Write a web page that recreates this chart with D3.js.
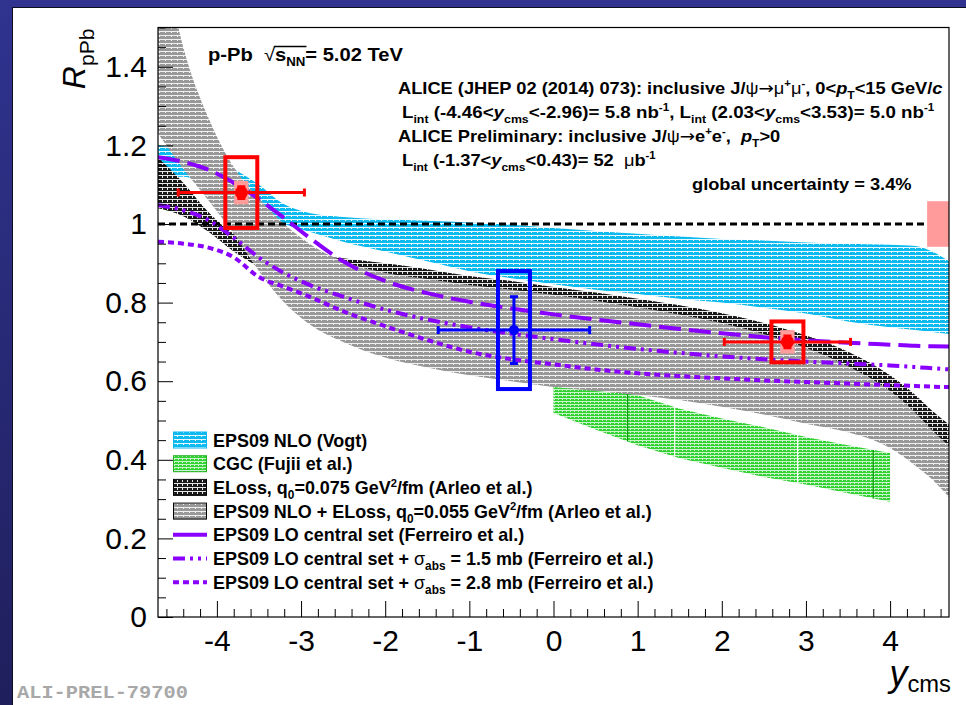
<!DOCTYPE html>
<html>
<head>
<meta charset="utf-8">
<script src="https://cdn.jsdelivr.net/npm/d3@7"></script>
<style>
  html, body { margin: 0; padding: 0; background: #2e3190; }
  svg { display: block; }
  text { white-space: pre; }
</style>
</head>
<body>
<svg id="chart" width="966" height="705"></svg>
<script>
// ---------------- data ----------------
// rapidity grid shared by the model calculations
const modelGrid   = [-4.7, -4.4, -4.1, -3.8, -3.5, -3.2, -2.9, -2.5, -2, -1.5, -1, -0.5, 0, 0.5, 1, 1.5, 2, 2.5, 3, 3.5, 4, 4.3, 4.5, 4.7];
// EPS09 NLO (Vogt) band
const vogtHigh    = [1.20, 1.19, 1.17, 1.14, 1.10, 1.05, 1.028, 1.018, 1.012, 1.008, 1.004, 0.998, 0.99, 0.982, 0.975, 0.968, 0.962, 0.958, 0.953, 0.95, 0.947, 0.944, 0.93, 0.905];
const vogtLow     = [1.12, 1.12, 1.10, 1.06, 1.03, 1.00, 0.98, 0.955, 0.93, 0.905, 0.88, 0.862, 0.847, 0.833, 0.822, 0.81, 0.80, 0.787, 0.772, 0.752, 0.737, 0.73, 0.725, 0.72];
// ELoss q0 = 0.075 GeV^2/fm (Arleo et al.)
const elossHigh   = [1.17, 1.105, 1.03, 0.975, 0.945, 0.93, 0.922, 0.913, 0.90, 0.885, 0.868, 0.855, 0.84, 0.826, 0.81, 0.793, 0.773, 0.748, 0.716, 0.675, 0.615, 0.565, 0.525, 0.49];
const elossLow    = [1.04, 1.02, 0.98, 0.93, 0.89, 0.86, 0.845, 0.845, 0.845, 0.84, 0.835, 0.825, 0.813, 0.80, 0.785, 0.768, 0.745, 0.717, 0.68, 0.63, 0.565, 0.51, 0.465, 0.415];
// EPS09 NLO + ELoss q0 = 0.055 GeV^2/fm (Arleo et al.)
const epsElossHigh = [1.75, 1.45, 1.27, 1.145, 1.065, 1.00, 0.95, 0.905, 0.876, 0.86, 0.845, 0.833, 0.82, 0.805, 0.788, 0.77, 0.748, 0.72, 0.685, 0.638, 0.575, 0.52, 0.475, 0.435];
const epsElossLow  = [1.23, 1.14, 1.06, 0.975, 0.88, 0.80, 0.745, 0.70, 0.66, 0.635, 0.615, 0.60, 0.585, 0.575, 0.565, 0.552, 0.535, 0.515, 0.492, 0.47, 0.43, 0.385, 0.35, 0.305];
// EPS09 LO (Ferreiro et al.)
const centralSet  = [1.17, 1.158, 1.138, 1.105, 1.063, 1.015, 0.965, 0.905, 0.855, 0.824, 0.802, 0.785, 0.77, 0.757, 0.745, 0.733, 0.722, 0.712, 0.704, 0.698, 0.693, 0.69, 0.689, 0.688];
const absorb15    = [1.048, 1.035, 1.01, 0.965, 0.915, 0.875, 0.845, 0.815, 0.782, 0.757, 0.737, 0.721, 0.707, 0.694, 0.682, 0.672, 0.663, 0.656, 0.65, 0.645, 0.64, 0.636, 0.633, 0.63];
const absorb28    = [0.955, 0.95, 0.94, 0.915, 0.865, 0.84, 0.815, 0.778, 0.74, 0.705, 0.675, 0.656, 0.643, 0.63, 0.62, 0.613, 0.607, 0.602, 0.598, 0.594, 0.59, 0.588, 0.586, 0.585];
// CGC (Fujii et al.)
const cgcGrid     = [0, 0.5, 1, 1.5, 2, 2.5, 3, 3.5, 4];
const cgcHigh     = [0.608, 0.586, 0.564, 0.53, 0.505, 0.483, 0.458, 0.437, 0.417];
const cgcLow      = [0.519, 0.477, 0.437, 0.404, 0.38, 0.356, 0.337, 0.315, 0.293];
const cgcSeams    = [0.88, 1.44, 2.9, 3.8];
const cgcSeamInk  = ["#109a10", "#ffffff", "#ffffff", "#109a10"];

// measured points: backward (mu mu), mid (e e), forward (mu mu)
const pointRapidity = [-3.71, -0.47, 2.78];
const pointBinLow   = [-4.46, -1.37, 2.03];
const pointBinHigh  = [-2.96, 0.43, 3.53];
const pointR        = [1.08, 0.73, 0.70];
const pointStat     = [0.015, 0.085, 0.015];
const pointSysUncorr = [0.09, 0.15, 0.052];
const pointSysCorr  = [0.03, 0, 0.03];
const pointColor    = ["#ff0000", "#0000ff", "#ff0000"];
const globalUnc     = 0.058;

const yTicks = [0, 0.2, 0.4, 0.6, 0.8, 1, 1.2, 1.4];
const xTicks = [-4, -3, -2, -1, 0, 1, 2, 3, 4];

// ---------------- setup ----------------
const W = 966, H = 705;
const svg = d3.select("#chart");
const defs = svg.append("defs");

const grad = defs.append("linearGradient").attr("id", "bgGrad")
  .attr("x1", 0).attr("y1", 0).attr("x2", 0).attr("y2", 1);
grad.append("stop").attr("offset", "0%").attr("stop-color", "#30338f");
grad.append("stop").attr("offset", "100%").attr("stop-color", "#1f1f5c");
svg.append("rect").attr("width", W).attr("height", H).attr("fill", "url(#bgGrad)");
svg.append("rect").attr("x", 12.5).attr("y", 7.5).attr("width", W).attr("height", H)
  .attr("fill", "#ffffff").attr("stroke", "#0d0d20").attr("stroke-width", 1);

const x = d3.scaleLinear().domain([-4.7, 4.7]).range([158, 949]);
const y = d3.scaleLinear().domain([0, 1.5]).range([617, 27.5]);
const [fx0, fx1] = x.range();
const [fy0, fy1] = y.range();

// hatched fills in the style of the original plotting package
function hatch(id, base, line, lineOp, cw, ch, speckH) {
  const p = defs.append("pattern").attr("id", id).attr("patternUnits", "userSpaceOnUse")
    .attr("width", cw).attr("height", ch);
  p.append("rect").attr("width", cw).attr("height", ch).attr("fill", base);
  p.append("rect").attr("x", 0).attr("y", ch - 1).attr("width", cw).attr("height", 1)
    .attr("fill", line).attr("opacity", lineOp);
  p.append("rect").attr("x", Math.floor(cw / 2)).attr("y", 0).attr("width", 1).attr("height", speckH)
    .attr("fill", line).attr("opacity", lineOp);
}
hatch("hVogt", "#0cbaf0", "#ffffff", 0.9, 6, 4, 1);
hatch("hCgc", "#33d233", "#ffffff", 0.75, 4, 3, 1);
hatch("hEloss", "#181818", "#ffffff", 0.9, 5, 4, 2);
hatch("hEpsEloss", "#989898", "#ffffff", 0.85, 6, 4, 1);

defs.append("clipPath").attr("id", "frameClip").append("rect")
  .attr("x", fx0).attr("y", fy1).attr("width", fx1 - fx0).attr("height", fy0 - fy1);

const plot = svg.append("g").attr("clip-path", "url(#frameClip)");

const band = (hi, lo) => modelGrid.map((g, i) => ({ x: g, hi: hi[i], lo: lo[i] }));
const area = d3.area().x(d => x(d.x)).y0(d => y(d.lo)).y1(d => y(d.hi)).curve(d3.curveMonotoneX);
const line = d3.line().x(d => x(d.x)).y(d => y(d.v)).curve(d3.curveMonotoneX);

// model bands
plot.append("path").attr("d", area(band(vogtHigh, vogtLow))).attr("fill", "url(#hVogt)");
const cgcData = cgcGrid.map((g, i) => ({ x: g, hi: cgcHigh[i], lo: cgcLow[i] }));
plot.append("path").attr("d", area.curve(d3.curveLinear)(cgcData)).attr("fill", "url(#hCgc)");
area.curve(d3.curveMonotoneX);
const cgcHiAt = d3.scaleLinear().domain(cgcGrid).range(cgcHigh);
const cgcLoAt = d3.scaleLinear().domain(cgcGrid).range(cgcLow);
cgcSeams.forEach((s, i) => {
  plot.append("line").attr("x1", x(s)).attr("x2", x(s))
    .attr("y1", y(cgcHiAt(s))).attr("y2", y(cgcLoAt(s)))
    .attr("stroke", cgcSeamInk[i]).attr("stroke-width", 1.2);
});
plot.append("path").attr("d", area(band(elossHigh, elossLow))).attr("fill", "url(#hEloss)");
plot.append("path").attr("d", area(band(epsElossHigh, epsElossLow))).attr("fill", "url(#hEpsEloss)");

// unity reference
plot.append("line").attr("x1", fx0).attr("x2", fx1).attr("y1", y(1)).attr("y2", y(1))
  .attr("stroke", "#000").attr("stroke-width", 3).attr("stroke-dasharray", "7,4");

// Ferreiro et al. curves
const violet = "#8a00ff";
const curveStyles = [
  { v: centralSet, dash: "22,8" },
  { v: absorb15, dash: "12,5,3,5,3,5" },
  { v: absorb28, dash: "6,4" }
];
curveStyles.forEach(c => {
  plot.append("path").attr("d", line(modelGrid.map((g, i) => ({ x: g, v: c.v[i] }))))
    .attr("fill", "none").attr("stroke", violet).attr("stroke-width", 4)
    .attr("stroke-dasharray", c.dash);
});

// global normalisation uncertainty
plot.append("rect").attr("x", x(4.44)).attr("width", x(4.7) - x(4.44))
  .attr("y", y(1 + globalUnc)).attr("height", y(1 - globalUnc) - y(1 + globalUnc))
  .attr("fill", "#ff9b9b");

// data points
pointRapidity.forEach((c, i) => {
  const v = pointR[i], col = pointColor[i];
  if (pointSysCorr[i] > 0) {
    plot.append("rect").attr("x", x(c - 0.085)).attr("width", x(c + 0.085) - x(c - 0.085))
      .attr("y", y(v + pointSysCorr[i])).attr("height", y(v - pointSysCorr[i]) - y(v + pointSysCorr[i]))
      .attr("fill", "#ff9c9c");
  }
  plot.append("line").attr("x1", x(pointBinLow[i])).attr("x2", x(pointBinHigh[i]))
    .attr("y1", y(v)).attr("y2", y(v)).attr("stroke", col).attr("stroke-width", 3);
  [pointBinLow[i], pointBinHigh[i]].forEach(e => {
    plot.append("line").attr("x1", x(e)).attr("x2", x(e)).attr("y1", y(v) - 4).attr("y2", y(v) + 4)
      .attr("stroke", col).attr("stroke-width", 3);
  });
  plot.append("line").attr("x1", x(c)).attr("x2", x(c))
    .attr("y1", y(v + pointStat[i])).attr("y2", y(v - pointStat[i])).attr("stroke", col).attr("stroke-width", 3);
  [v + pointStat[i], v - pointStat[i]].forEach(e => {
    plot.append("line").attr("x1", x(c) - 4).attr("x2", x(c) + 4).attr("y1", y(e)).attr("y2", y(e))
      .attr("stroke", col).attr("stroke-width", 3);
  });
  plot.append("rect").attr("x", x(c - 0.19)).attr("width", x(c + 0.19) - x(c - 0.19))
    .attr("y", y(v + pointSysUncorr[i])).attr("height", y(v - pointSysUncorr[i]) - y(v + pointSysUncorr[i]))
    .attr("fill", "none").attr("stroke", col).attr("stroke-width", 4);
  plot.append("circle").attr("cx", x(c)).attr("cy", y(v)).attr("r", col === "#0000ff" ? 5 : 6.5).attr("fill", col);
});

// ---------------- axes ----------------
const sans = "'Liberation Sans', Arial, Helvetica, sans-serif";
const minorY = d3.range(0, 1.5001, 0.05).filter(t => Math.abs(t / 0.2 - Math.round(t / 0.2)) > 1e-6);
const minorX = d3.range(-4.6, 4.7, 0.2).filter(t => Math.abs(t - Math.round(t)) > 1e-6);

svg.append("g").attr("transform", `translate(${fx0},0)`)
  .call(d3.axisLeft(y).tickValues(yTicks).tickSize(-15).tickPadding(11).tickFormat(d3.format("~g")));
svg.append("g").attr("transform", `translate(${fx0},0)`)
  .call(d3.axisLeft(y).tickValues(minorY).tickSize(-8).tickFormat(""));
const xAxis = svg.append("g").attr("transform", `translate(0,${fy0})`)
  .call(d3.axisBottom(x).tickValues(xTicks).tickSize(-16).tickPadding(13).tickFormat(d3.format("d")));
svg.append("g").attr("transform", `translate(0,${fy0})`)
  .call(d3.axisBottom(x).tickValues(minorX).tickSize(-8).tickFormat(""));
svg.selectAll(".domain").remove();
svg.selectAll(".tick line").attr("stroke", "#000").attr("stroke-width", 1);
svg.selectAll(".tick text").attr("font-family", sans).attr("font-size", 30).attr("fill", "#000");
xAxis.selectAll(".tick text").text(d => String(d).replace("\u2212", "-"));

// frame
svg.append("rect").attr("x", fx0).attr("y", fy1).attr("width", fx1 - fx0).attr("height", fy0 - fy1)
  .attr("fill", "none").attr("stroke", "#000").attr("stroke-width", 1.2);

// ---------------- rich text helper ----------------
// segments: [text, kind]; kind: "" plain, "i" italic, "sub", "sup", "g" light-weight symbol, "a" arrow
function rich(parent, px, py, segs, o) {
  const g = parent.append("g").attr("transform", `translate(${px},${py})`);
  const t = g.append("text").attr("font-family", o.family || sans).attr("font-size", o.size)
    .attr("font-weight", o.weight || "normal").attr("fill", o.fill || "#000")
    .attr("text-anchor", o.anchor || "start");
  let shift = 0;
  segs.forEach(([s, k]) => {
    const ts = t.append("tspan").text(s);
    let target = 0, size = null;
    if (k === "sub") { target = o.size * (o.subShift || 0.3); size = o.size * (o.subScale || 0.66); }
    if (k === "sup") { target = -o.size * 0.4; size = o.size * 0.62; }
    if (target !== shift) { ts.attr("dy", target - shift); shift = target; }
    if (size) ts.attr("font-size", size);
    if (k === "i") ts.attr("font-style", "italic");
    if (k === "g") ts.attr("font-weight", "normal");
    if (k === "a") ts.attr("font-weight", "normal").attr("font-family", "'DejaVu Sans', sans-serif");
  });
  return { g, t, width: () => t.node().getComputedTextLength(),
    squeeze: (s) => g.attr("transform", `translate(${px},${py}) scale(${s},1)`) };
}

// title
const title = rich(svg, 208, 61, [["p-Pb  ", ""], ["\u221A", "g"], ["s", ""], ["NN", "sub"], ["= 5.02 TeV", ""]],
  { size: 18, weight: "bold" });
title.squeeze(195 / title.width());
{
  const n = title.t.node();
  const iS = n.textContent.indexOf("\u221A");
  const xa = n.getEndPositionOfChar(iS).x - 1;
  const xb = n.getEndPositionOfChar(iS + 3).x + 1;
  title.g.append("line").attr("x1", xa).attr("x2", xb).attr("y1", -14.5).attr("y2", -14.5)
    .attr("stroke", "#000").attr("stroke-width", 1.3);
}

// annotation rows
const noteRows = [
  [["ALICE (JHEP 02 (2014) 073): inclusive J/", ""], ["\u03C8", "g"], ["\u2192", "a"], ["\u03BC", "g"], ["+", "sup"], ["\u03BC", "g"], ["-", "sup"], [", 0<", ""], ["p", "i"], ["T", "sub"], ["<15 GeV/", ""], ["c", "i"]],
  [["L", ""], ["int", "sub"], [" (-4.46<", ""], ["y", "i"], ["cms", "sub"], ["<-2.96)= 5.8 nb", ""], ["-1", "sup"], [", L", ""], ["int", "sub"], [" (2.03<", ""], ["y", "i"], ["cms", "sub"], ["<3.53)= 5.0 nb", ""], ["-1", "sup"]],
  [["ALICE Preliminary: inclusive J/", ""], ["\u03C8", "g"], ["\u2192", "a"], ["e", ""], ["+", "sup"], ["e", ""], ["-", "sup"], [",  ", ""], ["p", "i"], ["T", "sub"], [">0", ""]],
  [["L", ""], ["int", "sub"], [" (-1.37<", ""], ["y", "i"], ["cms", "sub"], ["<0.43)= 52  ", ""], ["\u03BC", "g"], ["b", ""], ["-1", "sup"]]
];
const noteX = [398, 402, 398, 402];
const noteBase = [94, 118, 142, 166];
const notes = noteRows.map((r, i) => rich(svg, noteX[i], noteBase[i], r, { size: 17, weight: "bold" }));
const noteScale = 545 / notes[0].width();
notes.forEach(n => n.squeeze(noteScale));
notes[1].squeeze(532 / notes[1].width());
const glob = rich(svg, 692, 190, [["global uncertainty = 3.4%", ""]], { size: 17, weight: "bold" });
glob.squeeze(noteScale);

// ---------------- legend ----------------
const legendRows = [
  [["EPS09 NLO (Vogt)", ""]],
  [["CGC (Fujii et al.)", ""]],
  [["ELoss, q", ""], ["0", "sub"], ["=0.075 GeV", ""], ["2", "sup"], ["/fm (Arleo et al.)", ""]],
  [["EPS09 NLO + ELoss, q", ""], ["0", "sub"], ["=0.055 GeV", ""], ["2", "sup"], ["/fm (Arleo et al.)", ""]],
  [["EPS09 LO central set (Ferreiro et al.)", ""]],
  [["EPS09 LO central set + ", ""], ["\u03C3", "g"], ["abs", "sub"], [" = 1.5 mb (Ferreiro et al.)", ""]],
  [["EPS09 LO central set + ", ""], ["\u03C3", "g"], ["abs", "sub"], [" = 2.8 mb (Ferreiro et al.)", ""]]
];
const legendFill = ["url(#hVogt)", "url(#hCgc)", "url(#hEloss)", "url(#hEpsEloss)", null, null, null];
const legendEdge = ["#08b8ef", "#22b022", "#000", "#000", null, null, null];
const legendDash = [null, null, null, null, null, "12,5,3,5,3,5", "6,4"];
const legendY = d3.range(7).map(i => 440 + i * 23.7);
const legendItems = legendRows.map((r, i) => rich(svg, 213, legendY[i] + 6.5, r, { size: 18, weight: "bold" }));
const legScale = 439 / legendItems[3].width();
legendItems.forEach(l => l.squeeze(legScale));
legendRows.forEach((r, i) => {
  const cy = legendY[i];
  if (legendFill[i]) {
    svg.append("rect").attr("x", 173.5).attr("y", cy - 8).attr("width", 33).attr("height", 16)
      .attr("fill", legendFill[i]).attr("stroke", legendEdge[i]).attr("stroke-width", 1);
  } else {
    svg.append("line").attr("x1", 173).attr("x2", 207).attr("y1", cy).attr("y2", cy)
      .attr("stroke", violet).attr("stroke-width", 4)
      .attr("stroke-dasharray", legendDash[i]);
  }
});

// ---------------- axis titles ----------------
const yTitle = svg.append("g").attr("transform", `translate(85,${fy1 + 1}) rotate(-90)`);
rich(yTitle, 0, 0, [["R", "i"], ["pPb", "sub"]], { size: 32, anchor: "end", subShift: 0.28, subScale: 0.66 });
rich(svg, 951, 686, [["y", "i"], ["cms", "sub"]], { size: 36, anchor: "end", subShift: 0.18, subScale: 0.66 });

// preliminary figure id
const tag = rich(svg, 17, 698, [["ALI-PREL-79700", ""]],
  { size: 19, weight: "bold", fill: "#a8a8a8", family: "'Liberation Mono', 'Courier New', monospace" });
tag.squeeze(171 / tag.width());
</script>
</body>
</html>
